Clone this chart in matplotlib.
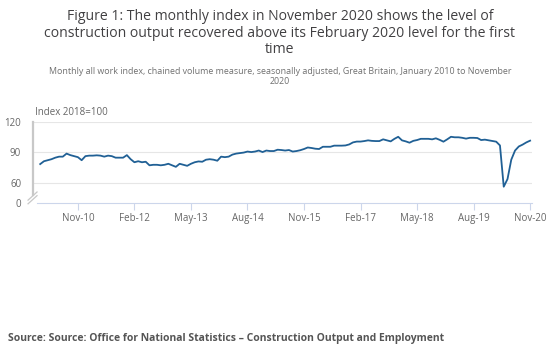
import numpy as np
import matplotlib
matplotlib.use("Agg")
import matplotlib.pyplot as plt
from matplotlib.lines import Line2D

plt.rcParams["font.family"] = ["Open Sans", "DejaVu Sans"]

# Monthly all work index, Jan 2010 - Nov 2020 (2018=100)
index_2010 = [78.2, 81.0, 82.0, 83.0, 84.5, 85.5, 85.5, 88.5, 87.0, 86.0, 85.0, 82.0]
index_2011 = [86.0, 86.5, 86.5, 86.8, 86.5, 85.5, 86.5, 86.0, 84.5, 84.5, 84.5, 87.0]
index_2012 = [83.0, 80.0, 81.0, 80.0, 80.5, 77.0, 77.5, 77.5, 77.0, 77.5, 78.5, 77.0]
index_2013 = [75.5, 78.5, 77.5, 76.5, 78.5, 80.0, 80.8, 80.5, 82.5, 83.0, 82.5, 81.5]
index_2014 = [85.5, 85.0, 85.5, 87.5, 88.5, 89.0, 89.5, 90.5, 90.0, 90.5, 91.5, 90.0]
index_2015 = [91.5, 91.0, 91.0, 92.3, 92.0, 91.5, 92.0, 90.5, 91.0, 91.8, 93.0, 94.5]
index_2016 = [94.0, 93.3, 93.0, 95.2, 95.2, 95.2, 96.3, 96.3, 96.3, 96.5, 97.5, 99.5]
index_2017 = [100.3, 100.3, 100.8, 101.5, 101.0, 100.8, 100.8, 102.5, 101.5, 100.5, 103.0, 105.0]
index_2018 = [101.5, 100.5, 99.2, 101.0, 101.8, 103.0, 103.0, 103.0, 102.5, 103.5, 102.0, 100.2]
index_2019 = [102.5, 105.0, 104.5, 104.5, 104.0, 103.2, 104.0, 104.0, 103.8, 101.8, 102.2, 101.5]
index_2020 = [100.8, 100.2, 96.5, 56.0, 63.5, 82.5, 91.5, 95.5, 97.3, 99.5, 101.2]

values = (index_2010 + index_2011 + index_2012 + index_2013 + index_2014 + index_2015
          + index_2016 + index_2017 + index_2018 + index_2019 + index_2020)
months = np.arange(len(values))

tick_pos = [10, 25, 40, 55, 70, 85, 100, 115, 130]
tick_labels = ["Nov-10", "Feb-12", "May-13", "Aug-14", "Nov-15", "Feb-17", "May-18", "Aug-19", "Nov-20"]

# y axis is broken between 60 and 0, so "0" sits at the bottom of the axes
y_ticks = [40, 60, 90, 120]
y_labels = ["0", "60", "90", "120"]

fig = plt.figure(figsize=(5.6, 3.61), dpi=100)
ax = fig.add_axes([0.059, 0.4377, 0.891, 0.2257])

ax.plot(months, values, color="#206095", linewidth=1.3, zorder=3)

ax.set_xlim(-1.9, 130.5)
ax.set_ylim(40, 120)
ax.set_xticks(tick_pos)
ax.set_xticklabels(tick_labels)
ax.set_yticks(y_ticks)
ax.set_yticklabels(y_labels)

for v in [60, 90, 120]:
    ax.axhline(v, color="#e6e6e6", linewidth=0.8, zorder=1)

for s in ["top", "right", "left"]:
    ax.spines[s].set_visible(False)
ax.spines["bottom"].set_color("#ccd6eb")
ax.spines["bottom"].set_linewidth(0.8)
ax.spines["bottom"].set_bounds(-0.8, 130.5)

ax.tick_params(axis="x", colors="#ccd6eb", length=5, width=0.8, labelcolor="#666666", labelsize=7, pad=2)
ax.tick_params(axis="y", length=0, labelcolor="#666666", labelsize=7, pad=8.5)

# left axis line with a break near the bottom
ax.add_line(Line2D([0, 0], [0.1, 1.0], transform=ax.transAxes, color="#c8c8c8",
                   linewidth=1.6, clip_on=False, zorder=2))
for dy in [0.0, 0.045]:
    ax.add_line(Line2D([-0.01, 0.008], [-0.01 + dy, 0.09 + dy], transform=ax.transAxes,
                       color="#c8c8c8", linewidth=0.9, clip_on=False))

ax.text(0.004, 1.04, "Index 2018=100", transform=ax.transAxes, fontsize=7,
        color="#666666", ha="left", va="bottom")

fig.text(0.5, 0.975,
         "Figure 1: The monthly index in November 2020 shows the level of\n"
         "construction output recovered above its February 2020 level for the first\n"
         "time",
         ha="center", va="top", fontsize=10.1, color="#414042", linespacing=1.15)
fig.text(0.5, 0.815,
         "Monthly all work index, chained volume measure, seasonally adjusted, Great Britain, January 2010 to November\n"
         "2020",
         ha="center", va="top", fontsize=6.4, color="#707070", linespacing=1.2)
fig.text(0.014, 0.062,
         "Source: Source: Office for National Statistics \u2013 Construction Output and Employment",
         ha="left", va="center", fontsize=7.5, fontweight="bold", color="#555555")

fig.savefig("out.png", dpi=100)
